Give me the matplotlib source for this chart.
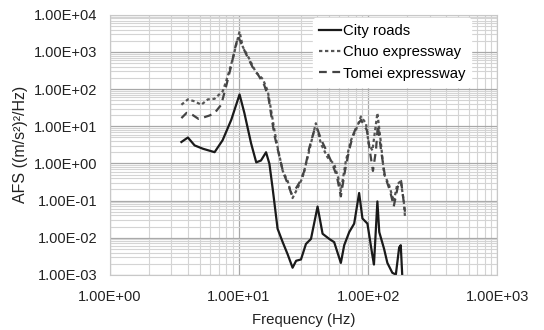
import matplotlib
matplotlib.use("Agg")
import matplotlib.pyplot as plt
import matplotlib.ticker as mticker
import numpy as np

plt.rcParams['font.family'] = ['Liberation Sans', 'DejaVu Sans']

# City roads (solid)
f_city = [3.58, 4.02, 4.53, 5.25, 6.47, 7.46, 8.71, 10.1, 11.0, 12.4, 13.6, 14.8,
          16.2, 17.2, 18.2, 19.9, 21.8, 23.8, 26.0, 27.7, 30.2, 33.0, 36.1, 40.6,
          44.4, 50.0, 54.6, 61.5, 65.3, 71.4, 78.0, 85.2, 90.4, 98.8, 108, 111,
          118, 122, 133, 141, 154, 164, 174, 179, 184]
a_city = [3.78, 4.99, 3.06, 2.49, 2.01, 4.2, 14.9, 72, 23, 3.5, 1.07, 1.2,
          2.0, 0.98, 0.22, 0.0175, 0.0076, 0.0036, 0.00156, 0.0024, 0.0026, 0.0068, 0.0093, 0.069,
          0.0128, 0.0093, 0.0076, 0.0021, 0.0063, 0.0142, 0.024, 0.16, 0.033, 0.024, 0.0033, 0.0019,
          0.095, 0.0142, 0.005, 0.0021, 0.00114, 0.00102, 0.0055, 0.0063, 0.0009]

# Chuo expressway (dotted)
f_chuo = [3.58, 4.02, 4.53, 5.10, 5.74, 6.47, 7.50, 8.20, 8.95, 9.50, 10.1, 10.7,
          12.0, 13.5, 15.3, 16.7, 17.7, 18.8, 19.9, 21.8, 23.8, 26.0, 28.5, 31.0,
          34.0, 37.1, 39.4, 43.1, 48.5, 54.6, 59.6, 61.5, 67.3, 73.6, 80.5, 87.9,
          96.2, 101, 108, 118, 125, 133, 145, 158, 168, 179, 189, 193]
a_chuo = [38, 53, 47, 38, 53, 55, 89, 230, 660, 1530, 3570, 1380,
          660, 285, 187, 89, 28, 7.9, 2.75, 0.63, 0.34, 0.117, 0.22, 0.41,
          1.46, 5.2, 12.1, 3.4, 1.46, 0.96, 0.34, 0.18, 1.19, 4.2, 7.9, 18.3,
          12.1, 3.4, 2.23, 22.7, 4.2, 0.51, 0.27, 0.095, 0.27, 0.34, 0.095, 0.037]

# Tomei expressway (dashed)
f_tomei = [3.58, 3.93, 4.39, 4.86, 5.42, 5.91, 6.47, 7.28, 7.96, 8.71, 9.39, 9.86,
           10.4, 11.4, 12.7, 14.1, 15.7, 16.9, 17.8, 18.8, 20.2, 22.0, 24.1, 25.4,
           26.8, 29.3, 32.1, 34.9, 38.3, 40.2, 43.5, 47.5, 52.3, 57.2, 61.5, 66.2,
           71.2, 76.4, 82.3, 88.3, 93.1, 98.0, 103, 109, 115, 119, 126, 135,
           148, 158, 170, 180, 193]
a_tomei = [16.6, 23, 20, 15.8, 17.7, 19.5, 22.7, 38, 122, 430, 1410, 2650,
           1700, 850, 400, 240, 128, 60, 19, 5.8, 2.0, 0.57, 0.26, 0.157,
           0.18, 0.30, 0.63, 2.5, 7.9, 9.0, 4.2, 2.23, 1.05, 0.46, 0.13, 0.63,
           2.23, 5.8, 10.8, 14.9, 10.2, 7.9, 2.23, 0.63, 2.23, 10.8, 2.23, 0.46,
           0.18, 0.07, 0.24, 0.34, 0.05]

fig = plt.figure(figsize=(5.44, 3.30), dpi=100)
ax = fig.add_axes([0.202, 0.167, 0.712, 0.788])

ax.plot(f_city, a_city, color='#1a1a1a', lw=1.6, label='City roads')
ax.plot(f_chuo, a_chuo, color='#555555', lw=1.6, ls=(0, (1.5, 1.2)), label='Chuo expressway')
ax.plot(f_tomei, a_tomei, color='#444444', lw=1.6, ls=(0, (3.5, 2.5)), label='Tomei expressway')

ax.set_xscale('log')
ax.set_yscale('log')
ax.set_xlim(1, 1000)
ax.set_ylim(1e-3, 1e4)

fmt = mticker.FuncFormatter(lambda v, p: '%.2E' % v)
ax.xaxis.set_major_locator(mticker.LogLocator(base=10, numticks=10))
ax.yaxis.set_major_locator(mticker.LogLocator(base=10, numticks=10))
ax.xaxis.set_major_formatter(fmt)
ax.yaxis.set_major_formatter(fmt)
ax.xaxis.set_minor_formatter(mticker.NullFormatter())
ax.yaxis.set_minor_formatter(mticker.NullFormatter())

ax.grid(True, which='major', color='#a8a8a8', lw=0.9)
ax.grid(True, which='minor', color='#d4d4d4', lw=0.8)
ax.set_axisbelow(True)
ax.tick_params(which='both', length=0, labelsize=10.5, colors='#222222')
ax.tick_params(axis='y', pad=9)
ax.tick_params(axis='x', pad=11)
for s in ax.spines.values():
    s.set_color('#c8c8c8')

ax.set_xlabel('Frequency (Hz)', fontsize=10.8, color='#222222', labelpad=6)
ax.set_ylabel('AFS ((m/s²)²/Hz)', fontsize=11.5, color='#222222', labelpad=4)

leg = ax.legend(loc='upper right', frameon=True, fontsize=10.7, handlelength=1.5,
                handletextpad=0.1, labelspacing=0.5, borderaxespad=0.2,
                bbox_to_anchor=(0.94, 1.0))
leg.get_frame().set_facecolor('white')
leg.get_frame().set_edgecolor('white')
leg.get_frame().set_alpha(1)

fig.savefig('out.png', dpi=100)
